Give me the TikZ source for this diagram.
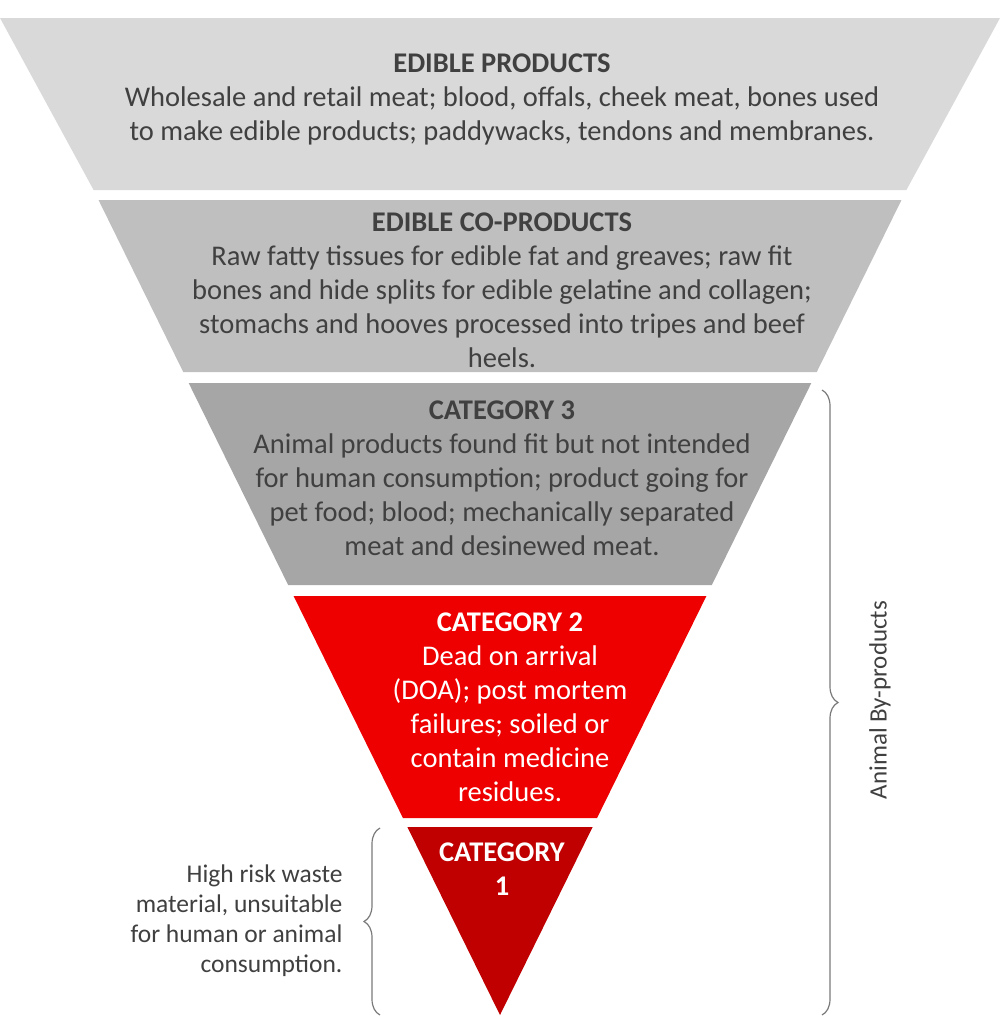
\documentclass[tikz,border=0pt]{standalone}
\usepackage{fontspec}
\setmainfont{Carlito}
\usetikzlibrary{decorations.pathreplacing}
\definecolor{tx}{HTML}{404040}
\definecolor{c1}{HTML}{D9D9D9}
\definecolor{c2}{HTML}{BFBFBF}
\definecolor{c3}{HTML}{A6A6A6}
\definecolor{c4}{HTML}{EE0000}
\definecolor{c5}{HTML}{C00000}
\tikzset{
 lbl/.style={align=center,text=tx,font=\fontsize{28.5}{34}\selectfont},
 wlbl/.style={align=center,text=white,font=\fontsize{28.5}{34}\selectfont},
 brc/.style={draw=tx!70,line width=1.2pt,decorate,decoration={brace,amplitude=16pt}},
}
\begin{document}
\begin{tikzpicture}[x=1pt,y=-1pt]
\useasboundingbox (0,0) rectangle (1000,1031);
\fill[c1] (0,18) -- (1000,18) -- ({1000-190*0.4926},190) -- ({190*0.4926},190) -- cycle;
\fill[c2] ({200*0.4926},200) -- ({1000-200*0.4926},200) -- ({1000-372*0.4926},372) -- ({372*0.4926},372) -- cycle;
\fill[c3] ({383*0.4926},383) -- ({1000-383*0.4926},383) -- ({1000-585*0.4926},585) -- ({585*0.4926},585) -- cycle;
\fill[c4] ({596*0.4926},596) -- ({1000-596*0.4926},596) -- ({1000-818*0.4926},818) -- ({818*0.4926},818) -- cycle;
\fill[c5] ({827*0.4926},827) -- ({1000-827*0.4926},827) -- (500,1015) -- cycle;
\node[lbl] (t1) at (502,99) {\textbf{EDIBLE PRODUCTS}\\Wholesale and retail meat; blood, offals, cheek meat, bones used\\to make edible products; paddywacks, tendons and membranes.};
\node[lbl] (t2) at (502,290) {\textbf{EDIBLE CO-PRODUCTS}\\Raw fatty tissues for edible fat and greaves; raw fit\\bones and hide splits for edible gelatine and collagen;\\stomachs and hooves processed into tripes and beef\\heels.};
\node[lbl] (t3) at (502,478) {\textbf{CATEGORY 3}\\Animal products found fit but not intended\\for human consumption; product going for\\pet food; blood; mechanically separated\\meat and desinewed meat.};
\node[wlbl] (t4) at (510,707) {\textbf{CATEGORY 2}\\Dead on arrival\\(DOA); post mortem\\failures; soiled or\\contain medicine\\residues.};
\node[wlbl] (t5) at (502,869) {\textbf{CATEGORY}\\\textbf{1}};
\coordinate (r1) at (822,390); \coordinate (r2) at (822,1015);
\draw[brc] (r1) -- (r2);
\node[text=tx,font=\fontsize{25}{30}\selectfont,rotate=90] (ab) at (880,700) {Animal By-products};
\coordinate (l1) at (380,1015); \coordinate (l2) at (380,828);
\draw[brc] (l1) -- (l2);
\node[anchor=east,align=right,text=tx,font=\fontsize{25.5}{30}\selectfont] (lt) at (346,921) {High risk waste\\material, unsuitable\\for human or animal\\consumption.};
\end{tikzpicture}
\end{document}
